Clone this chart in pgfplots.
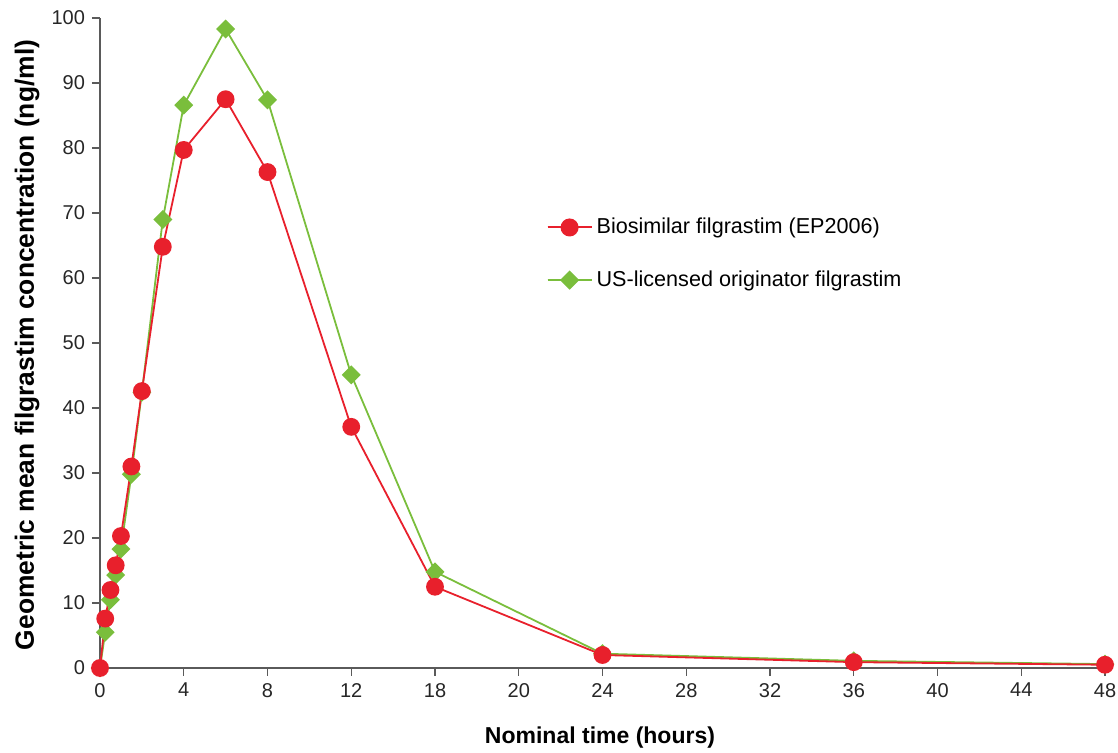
\documentclass[border=0pt]{standalone}
\usepackage{fontspec}
\setmainfont{Liberation Sans}
\usepackage{pgfplots}
\pgfplotsset{compat=1.18}
\definecolor{myred}{RGB}{232,32,44}
\definecolor{mygreen}{RGB}{122,190,60}
\definecolor{axgray}{RGB}{90,90,90}
\begin{document}
\begin{tikzpicture}
\begin{axis}[
  at={(0,0)}, anchor=origin,
  scale only axis, width=502.5pt, height=325pt,
  xmin=0, xmax=48, ymin=0, ymax=100,
  axis x line*=bottom, axis y line*=left,
  axis line style={axgray, line width=0.7pt},
  tick style={axgray, line width=0.7pt},
  tick align=outside, major tick length=4pt,
  xtick={0,4,...,48},
  xticklabels={0,4,8,12,18,20,24,28,32,36,40,44,48},
  ytick={0,10,...,100},
  /pgf/number format/assume math mode=true,
  ticklabel style={font=\fontsize{10}{12}\selectfont, text=black!85},
  clip=false,
  xlabel={\bfseries Nominal time (hours)},
  ylabel={\bfseries Geometric mean filgrastim concentration (ng/ml)},
  xlabel style={font=\fontsize{11.5}{13}\selectfont, at={(axis description cs:0.4975,-0.1077)}, anchor=center},
  ylabel style={font=\fontsize{13.2}{14}\selectfont, at={(axis description cs:-0.0726,0.497)}, anchor=center},
  legend style={at={(axis description cs:0.438,0.705)}, anchor=north west,
    draw=none, fill=none, font=\fontsize{10.8}{12}\selectfont, row sep=13pt},
  legend cell align=left,
  legend image code/.code={\draw[#1, mark=none] (0pt,0pt) -- (22pt,0pt); \draw[mark repeat=2,mark phase=2,#1] plot coordinates {(0pt,0pt)(11pt,0pt)(22pt,0pt)};},
]
\addlegendimage{myred, line width=1pt, mark=*, mark size=4pt, mark options={fill=myred, draw=myred}}
\addlegendentry{Biosimilar filgrastim (EP2006)}
\addlegendimage{mygreen, line width=1pt, mark=square*, mark size=2.9pt, mark options={fill=mygreen, draw=mygreen, rotate=45}}
\addlegendentry{US-licensed originator filgrastim}

\addplot[forget plot, mygreen, line width=0.9pt, mark=square*, mark size=2.9pt, mark options={fill=mygreen, draw=mygreen, rotate=45}]
coordinates {(0,0) (0.25,5.5) (0.5,10.5) (0.75,14.3) (1,18.3) (1.5,29.8) (2,42.4) (3,69) (4,86.6) (6,98.3) (8,87.4) (12,45.1) (16,14.8) (24,2.2) (36,1.1) (48,0.6)};
\addplot[forget plot, myred, line width=0.9pt, mark=*, mark size=4pt, mark options={fill=myred, draw=myred}]
coordinates {(0,0) (0.25,7.6) (0.5,12) (0.75,15.8) (1,20.3) (1.5,31) (2,42.6) (3,64.8) (4,79.7) (6,87.5) (8,76.3) (12,37.1) (16,12.5) (24,2.0) (36,0.9) (48,0.5)};
\end{axis}
\pgfresetboundingbox
\useasboundingbox (-50pt,-42.5pt) rectangle (509pt,334pt);
\end{tikzpicture}
\end{document}
